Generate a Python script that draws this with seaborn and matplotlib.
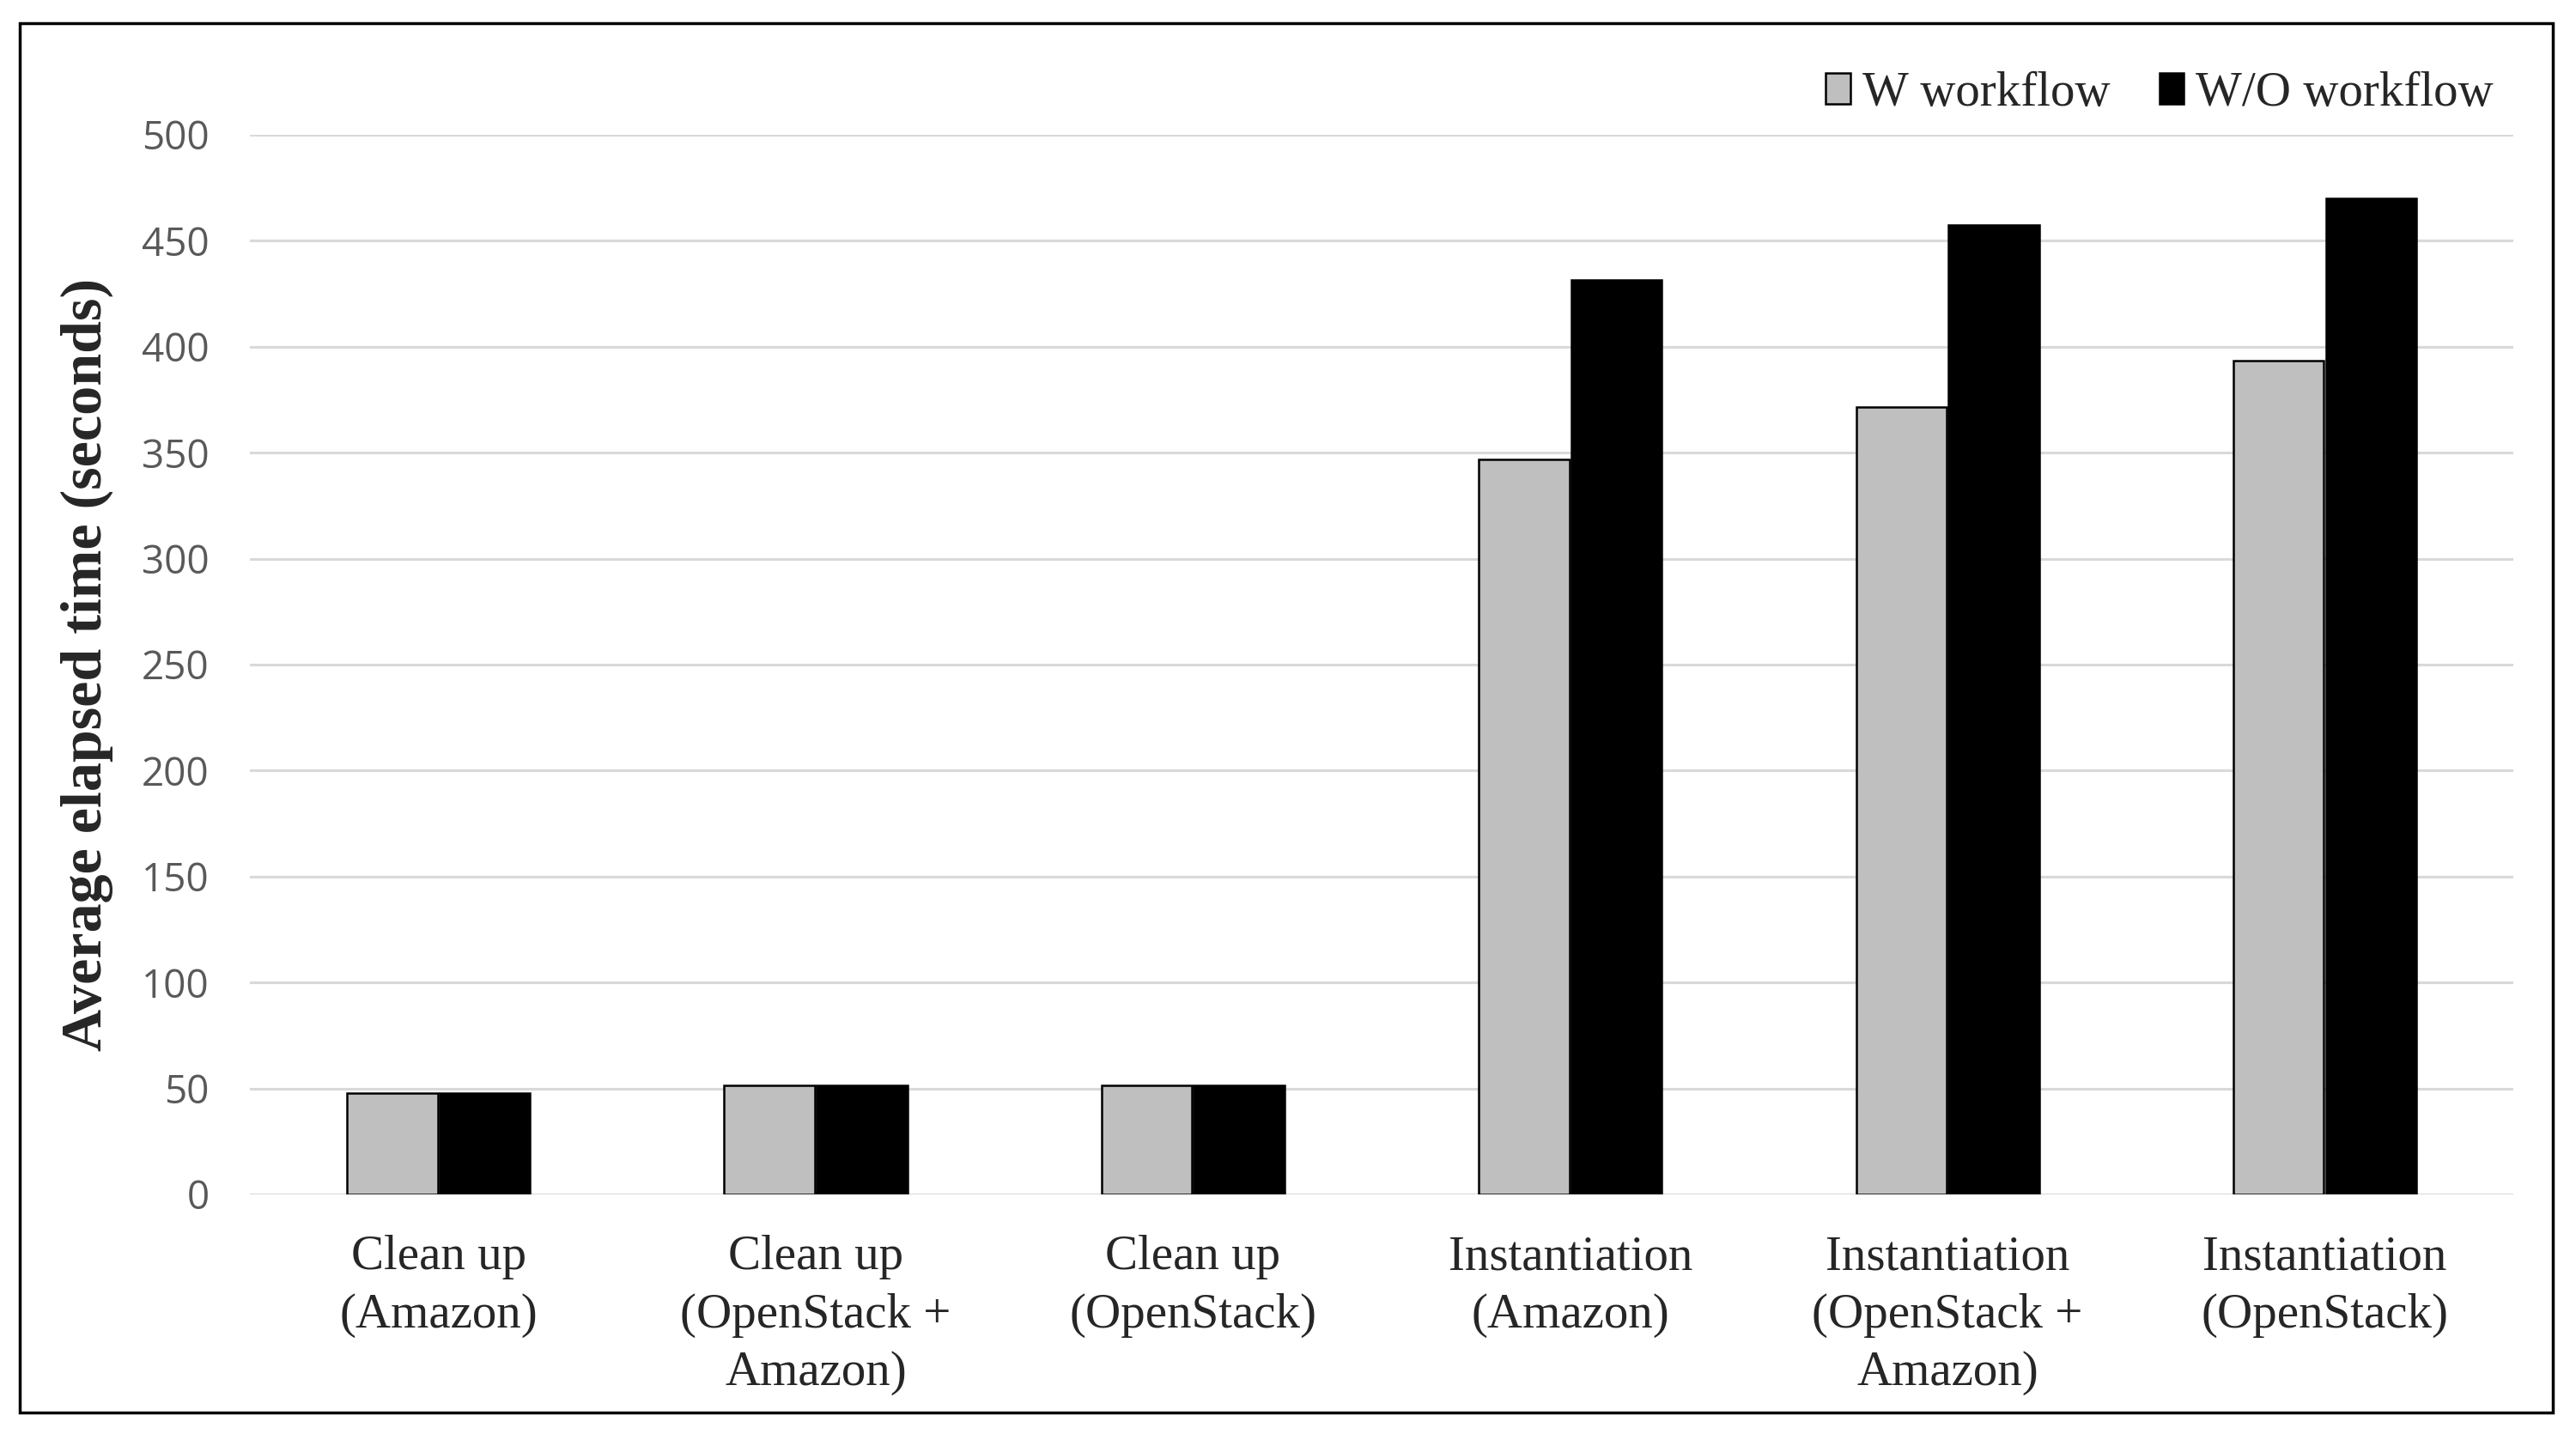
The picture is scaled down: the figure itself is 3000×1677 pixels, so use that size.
import matplotlib
matplotlib.use('Agg')
import matplotlib.pyplot as plt
import seaborn as sns
import pandas as pd
from matplotlib.patches import Rectangle

# values
categories = ['Clean up\n(Amazon)', 'Clean up\n(OpenStack +\nAmazon)', 'Clean up\n(OpenStack)',
              'Instantiation\n(Amazon)', 'Instantiation\n(OpenStack +\nAmazon)', 'Instantiation\n(OpenStack)']
w_workflow = [47.6, 51.6, 51.6, 347, 371.6, 393.5]
wo_workflow = [47.6, 51.6, 51.6, 431.6, 457.5, 470]
series = ['W workflow', 'W/O workflow']
y_ticks = [0, 50, 100, 150, 200, 250, 300, 350, 400, 450, 500]

df = pd.DataFrame({
    'category': categories * 2,
    'series': [series[0]] * len(categories) + [series[1]] * len(categories),
    'value': w_workflow + wo_workflow,
})

sns.set_style('white')
fig = plt.figure(figsize=(30, 16.77), dpi=100)
ax = fig.add_axes([0.097, 0.1706, 0.8787, 0.7358])

sns.barplot(data=df, x='category', y='value', hue='series', order=categories,
            hue_order=series, palette={'W workflow': '#bfbfbf', 'W/O workflow': 'black'},
            width=0.49, gap=0.02, edgecolor='black', linewidth=1.8, ax=ax, zorder=3)

ax.set_ylim(0, 500)
ax.set_xlim(-0.5, len(categories) - 0.5)
ax.set_yticks(y_ticks)
ax.grid(axis='y', color='#d9d9d9', linewidth=2.2, zorder=0)
ax.set_axisbelow(True)
for s in ax.spines.values():
    s.set_visible(False)

ax.tick_params(axis='y', length=0, pad=34, labelsize=33, labelcolor='#595959')
ax.tick_params(axis='x', length=0, pad=34)
for lbl in ax.get_yticklabels():
    lbl.set_family('Open Sans')
ax.set_xticks(range(len(categories)))
ax.set_xticklabels(categories, family='Liberation Serif', fontsize=41, linespacing=1.38)
ax.set_xlabel('')
ax.set_ylabel('Average elapsed time (seconds)', family='Liberation Serif',
              fontweight='bold', fontsize=49, labelpad=24)

handles, labels = ax.get_legend_handles_labels()
ax.get_legend().remove()
fig.legend(handles, labels, loc='center right', bbox_to_anchor=(0.968, 0.935), ncol=2,
           frameon=False, prop={'family': 'Liberation Serif', 'size': 41},
           handlelength=0.5, handleheight=0.6, handletextpad=0.25, columnspacing=1.0,
           borderpad=0, borderaxespad=0)

# outer frame around the chart
fig.patches.append(Rectangle((23 / 3000, 1 - 1645 / 1677), 2950 / 3000, 1618 / 1677,
                             transform=fig.transFigure, fill=False, edgecolor='black',
                             linewidth=2.5, zorder=10))

fig.savefig('out.png', dpi=100)
